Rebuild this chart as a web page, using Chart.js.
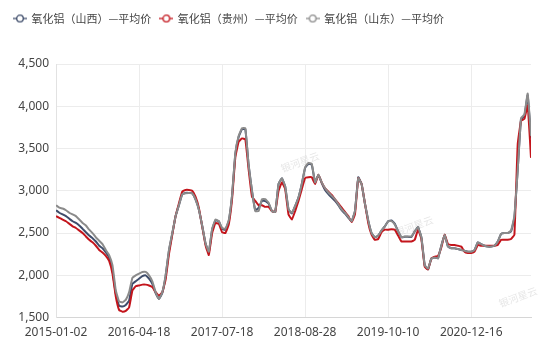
<!DOCTYPE html>
<html>
<head>
<meta charset="utf-8">
<script src="https://cdn.jsdelivr.net/npm/chart.js@4.4.1/dist/chart.umd.min.js"></script>
<style>
html, body { margin: 0; padding: 0; background: #fff; }
</style>
</head>
<body>
<canvas id="chart" width="550" height="355"></canvas>
<script>
// x tick labels, one every 25 points
var tickLabels = ["2015-01-02", "2016-04-18", "2017-07-18", "2018-08-28", "2019-10-10", "2020-12-16"];
var tickEvery = 25;

var seriesNames = ["氧化铝（山西）—平均价", "氧化铝（贵州）—平均价", "氧化铝（山东）—平均价"];
var seriesColors = ["#3f4d6b", "#c3151c", "#8b8b8b"];

var shanxi = [
  2770, 2740, 2720, 2700, 2670, 2640, 2620, 2590, 2550, 2510,
  2470, 2440, 2400, 2350, 2320, 2270, 2210, 2060, 1780, 1640,
  1630, 1650, 1700, 1900, 1930, 1960, 1990, 2000, 1960, 1900,
  1790, 1720, 1790, 1990, 2290, 2490, 2700, 2830, 2960, 2975,
  2975, 2970, 2900, 2780, 2590, 2380, 2270, 2540, 2650, 2640,
  2550, 2540, 2640, 2940, 3440, 3640, 3730, 3730, 3300, 3000,
  2770, 2800, 2880, 2880, 2850, 2760, 2750, 3080, 3150, 3050,
  2780, 2730, 2820, 2920, 3080, 3270, 3320, 3310, 3100, 3190,
  3090, 3010, 2960, 2920, 2880, 2830, 2770, 2730, 2680, 2640,
  2760, 3160, 3080, 2850, 2650, 2500, 2450, 2470, 2530, 2580,
  2640, 2650, 2610, 2520, 2450, 2455, 2455, 2455, 2520, 2570,
  2450, 2120, 2070, 2200, 2210, 2200, 2350, 2480, 2340, 2320,
  2320, 2310, 2300, 2290, 2280, 2280, 2300, 2390, 2370, 2350,
  2340, 2340, 2350, 2400, 2490, 2500, 2500, 2520, 2680, 3250,
  3850, 3880, 4130, 3620
];

var guizhou = [
  2700, 2680, 2660, 2640, 2610, 2580, 2560, 2530, 2500, 2460,
  2420, 2390, 2350, 2300, 2270, 2230, 2170, 2020, 1750, 1590,
  1570, 1580, 1620, 1820, 1870, 1880, 1890, 1890, 1880, 1860,
  1800, 1760, 1800, 1950, 2250, 2480, 2700, 2850, 2990, 3010,
  3010, 3000, 2930, 2800, 2580, 2360, 2240, 2500, 2620, 2610,
  2510, 2500, 2600, 2900, 3400, 3580, 3620, 3610, 3250, 2930,
  2880, 2830, 2830, 2810, 2810, 2760, 2750, 3000, 3100, 3020,
  2720, 2660, 2760, 2880, 3020, 3150, 3160, 3160, 3080, 3190,
  3100, 3030, 2990, 2950, 2900, 2850, 2800, 2750, 2700, 2630,
  2720, 3150, 3080, 2850, 2620, 2480, 2420, 2430, 2510, 2540,
  2540, 2545, 2540, 2470, 2400, 2400, 2400, 2400, 2420, 2540,
  2430, 2100, 2070, 2200, 2220, 2230, 2330, 2480, 2370, 2360,
  2360, 2350, 2340, 2280, 2265, 2265, 2280, 2360, 2350, 2350,
  2350, 2350, 2350, 2360, 2420, 2420, 2420, 2430, 2480, 3550,
  3830, 3850, 4010, 3390
];

var shandong = [
  2830, 2800, 2790, 2770, 2740, 2720, 2700, 2660, 2620, 2590,
  2540, 2500, 2450, 2410, 2370, 2300, 2240, 2120, 1820, 1690,
  1680, 1710, 1800, 1970, 2000, 2020, 2040, 2040, 2000, 1930,
  1800, 1720, 1800, 2000, 2300, 2500, 2700, 2830, 2960, 2970,
  2975, 2970, 2900, 2780, 2590, 2380, 2280, 2550, 2660, 2640,
  2560, 2550, 2650, 2950, 3450, 3650, 3740, 3740, 3300, 3000,
  2760, 2760, 2900, 2900, 2860, 2760, 2750, 3080, 3150, 3050,
  2780, 2740, 2820, 2920, 3080, 3280, 3330, 3320, 3100, 3190,
  3100, 3030, 2980, 2940, 2900, 2840, 2780, 2740, 2690, 2640,
  2760, 3150, 3080, 2850, 2650, 2500, 2450, 2470, 2530, 2580,
  2640, 2640, 2600, 2520, 2450, 2460, 2460, 2460, 2520, 2570,
  2450, 2120, 2080, 2200, 2210, 2200, 2350, 2480, 2340, 2320,
  2320, 2310, 2300, 2290, 2280, 2280, 2300, 2390, 2370, 2350,
  2340, 2340, 2350, 2400, 2490, 2500, 2500, 2530, 2700, 3250,
  3860, 3900, 4150, 3650
];

var allSeries = [shanxi, guizhou, shandong];

function toPoints(arr) {
  return arr.map(function (v, i) { return { x: i, y: v }; });
}

// legend marker: short line with a hollow circle
function marker(color) {
  var c = document.createElement("canvas");
  c.width = 14;
  c.height = 10;
  var ctx = c.getContext("2d");
  ctx.strokeStyle = color;
  ctx.lineWidth = 1.3;
  ctx.beginPath();
  ctx.moveTo(0, 5);
  ctx.lineTo(14, 5);
  ctx.stroke();
  ctx.beginPath();
  ctx.arc(7, 5, 3.3, 0, Math.PI * 2);
  ctx.fillStyle = "#fff";
  ctx.fill();
  ctx.stroke();
  return c;
}
var markers = seriesColors.map(marker);

var legendGap = {
  id: "legendGap",
  beforeInit: function (chart) {
    var fit = chart.legend.fit;
    chart.legend.fit = function () {
      fit.bind(chart.legend)();
      this.height += 30;
    };
  }
};

// faint site watermarks
var watermark = {
  id: "watermark",
  beforeDatasetsDraw: function (chart) {
    var ctx = chart.ctx;
    var spots = [[300, 162], [414, 226], [518, 297]];
    ctx.save();
    ctx.fillStyle = "rgba(200,200,200,0.45)";
    ctx.font = "10px 'Noto Sans CJK SC'";
    ctx.textAlign = "center";
    ctx.textBaseline = "middle";
    spots.forEach(function (p) {
      ctx.save();
      ctx.translate(p[0], p[1]);
      ctx.rotate(-0.35);
      ctx.fillText("银河星云", 0, 0);
      ctx.restore();
    });
    ctx.restore();
  }
};

var datasets = allSeries.map(function (arr, k) {
  return {
    label: seriesNames[k],
    data: toPoints(arr),
    borderColor: seriesColors[k],
    backgroundColor: seriesColors[k],
    borderWidth: 2,
    pointRadius: 0,
    tension: 0.1,
    fill: false,
    order: [2, 1, 0][k]
  };
});

new Chart(document.getElementById("chart"), {
  type: "line",
  data: { datasets: datasets },
  options: {
    responsive: false,
    animation: false,
    layout: { padding: { left: 5, right: 19, top: 4, bottom: 7 } },
    plugins: {
      tooltip: { enabled: false },
      legend: {
        position: "top",
        align: "start",
        labels: {
          usePointStyle: true,
          pointStyleWidth: 12,
          padding: 9,
          color: "#444",
          font: { family: "'Noto Sans CJK SC', 'Noto Sans', sans-serif", size: 11 },
          generateLabels: function (chart) {
            var items = Chart.defaults.plugins.legend.labels.generateLabels(chart);
            items.forEach(function (it) { it.pointStyle = markers[it.datasetIndex]; });
            return items;
          },
          sort: function (a, b) { return a.datasetIndex - b.datasetIndex; }
        }
      }
    },
    scales: {
      x: {
        type: "linear",
        min: 0,
        max: shanxi.length - 1,
        grid: { color: "#ececec", drawTicks: false },
        border: { color: "#d6d6d6" },
        ticks: {
          stepSize: tickEvery,
          includeBounds: false,
          autoSkip: false,
          maxRotation: 0,
          padding: 8,
          color: "#444",
          font: { family: "'Noto Sans', sans-serif", size: 12 },
          callback: function (value) {
            var k = value / tickEvery;
            return tickLabels[k] !== undefined ? tickLabels[k] : null;
          }
        }
      },
      y: {
        min: 1500,
        max: 4500,
        afterFit: function (scale) { scale.width = 51; },
        grid: { color: "#ececec", drawTicks: false },
        border: { color: "#e2e2e2" },
        ticks: {
          stepSize: 500,
          padding: 7,
          color: "#444",
          font: { family: "'Noto Sans', sans-serif", size: 12 },
          callback: function (value) { return value.toLocaleString("en-US"); }
        }
      }
    }
  },
  plugins: [legendGap, watermark]
});
</script>
</body>
</html>
